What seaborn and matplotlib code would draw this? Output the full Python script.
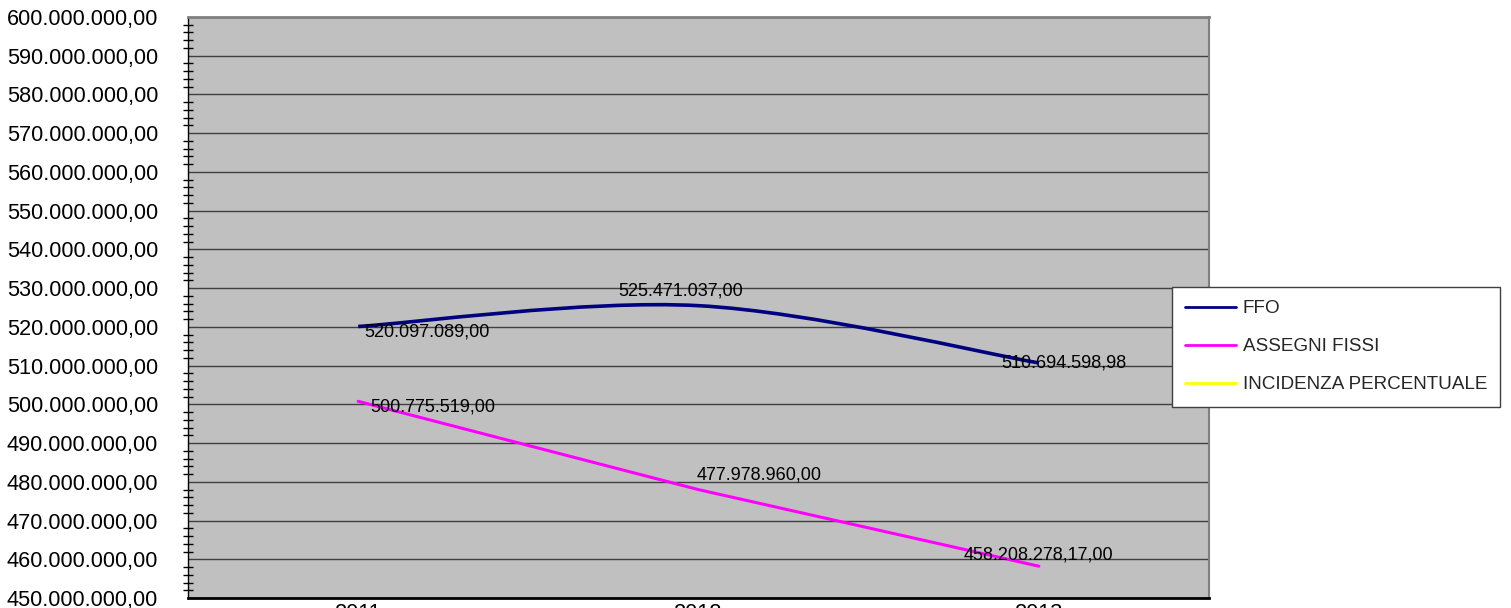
import numpy as np
import matplotlib.pyplot as plt
import seaborn as sns
from matplotlib.path import Path
from matplotlib.patches import PathPatch
from matplotlib.lines import Line2D
from matplotlib.ticker import FuncFormatter, MultipleLocator, FixedLocator

years = ['2011', '2012', '2013']
ffo = [520097089.00, 525471037.00, 510694598.98]
assegni = [500775519.00, 477978960.00, 458208278.17]
ffo_labels = ['520.097.089,00', '525.471.037,00', '510.694.598,98']
assegni_labels = ['500.775.519,00', '477.978.960,00', '458.208.278,17,00']
series_names = ['FFO', 'ASSEGNI FISSI', 'INCIDENZA PERCENTUALE']
series_colors = ['#000080', '#FF00FF', '#FFFF00']

sns.set_style('white')
plt.rcParams['font.family'] = ['Liberation Sans', 'DejaVu Sans']

W, H = 1511, 608
fig = plt.figure(figsize=(W / 100, H / 100), dpi=100)
ax = fig.add_axes([188 / W, 10 / H, (1209 - 188) / W, (598 - 17) / H])
ax.set_facecolor('#C0C0C0')

xs = np.arange(len(years))

# FFO: smoothed line (Excel style, bezier through the points)
pts = np.column_stack([xs, ffo]).astype(float)
n = len(pts)
verts = [pts[0]]
codes = [Path.MOVETO]
for i in range(n - 1):
    p0 = pts[max(i - 1, 0)]
    p1 = pts[i]
    p2 = pts[i + 1]
    p3 = pts[min(i + 2, n - 1)]
    verts += [p1 + (p2 - p0) / 6, p2 - (p3 - p1) / 6, p2]
    codes += [Path.CURVE4] * 3
ax.add_patch(PathPatch(Path(verts, codes), fill=False, edgecolor=series_colors[0],
                       lw=2.6, capstyle='butt', zorder=3))

# ASSEGNI FISSI: straight line
sns.lineplot(x=xs, y=assegni, color=series_colors[1], lw=2.2, ax=ax, legend=False, zorder=3)

# data labels (offsets in pixels)
def put_label(x, y, txt, dx, dy, ha):
    ax.annotate(txt, (x, y), xytext=(dx * 0.72, -dy * 0.72), textcoords='offset points',
                ha=ha, va='center', fontsize=13, color='black', zorder=4)

put_label(xs[0], ffo[0], ffo_labels[0], 6, 5.5, 'left')
put_label(xs[1], ffo[1], ffo_labels[1], -18, -15, 'center')
put_label(xs[2], ffo[2], ffo_labels[2], 25, 0.5, 'center')
put_label(xs[0], assegni[0], assegni_labels[0], 12, 5.5, 'left')
put_label(xs[1], assegni[1], assegni_labels[1], -2, -14.5, 'left')
put_label(xs[2], assegni[2], assegni_labels[2], 0, -11, 'center')

# axes
ax.set_xlim(-0.5, len(years) - 0.5)
ax.set_ylim(450e6, 600e6)
ax.yaxis.set_major_locator(MultipleLocator(10e6))
ax.yaxis.set_minor_locator(MultipleLocator(2e6))
ax.yaxis.set_major_formatter(FuncFormatter(
    lambda v, _: f"{v:,.2f}".replace(',', 'X').replace('.', ',').replace('X', '.')))
ax.tick_params(axis='y', which='major', direction='out', length=5, width=1,
               color='black', pad=16.5, labelsize=15.7, labelcolor='black')
ax.tick_params(axis='y', which='minor', direction='inout', length=7, width=1,
               color='black', left=True)

ax.xaxis.set_major_locator(FixedLocator(np.arange(-0.5, len(years), 1.0)))
ax.xaxis.set_minor_locator(FixedLocator(xs))
ax.set_xticklabels([])
ax.set_xticklabels(years, minor=True)
ax.tick_params(axis='x', which='major', direction='out', length=8, width=1, color='black')
ax.tick_params(axis='x', which='minor', length=0, pad=3.5, labelsize=15.7, labelcolor='black')

ax.yaxis.grid(True, color='#404040', lw=1)
ax.xaxis.grid(False)
ax.set_axisbelow(True)
ax.set_xlabel('')
ax.set_ylabel('')

ax.spines['left'].set_color('black')
ax.spines['left'].set_linewidth(1)
ax.spines['bottom'].set_color('black')
ax.spines['bottom'].set_linewidth(2)
ax.spines['top'].set_color('#808080')
ax.spines['top'].set_linewidth(2)
ax.spines['right'].set_color('#808080')
ax.spines['right'].set_linewidth(1.5)

handles = [Line2D([], [], color=c, lw=2) for c in series_colors]
fig.legend(handles, series_names, loc='upper left', bbox_to_anchor=(1172 / W, 1 - 287 / H),
           bbox_transform=fig.transFigure, frameon=True, fancybox=False, edgecolor='#404040',
           framealpha=1, fontsize=13.6, handlelength=2.7, handletextpad=0.35,
           labelspacing=1.1, borderpad=0.7, borderaxespad=0)

fig.savefig('out.png', dpi=100)
